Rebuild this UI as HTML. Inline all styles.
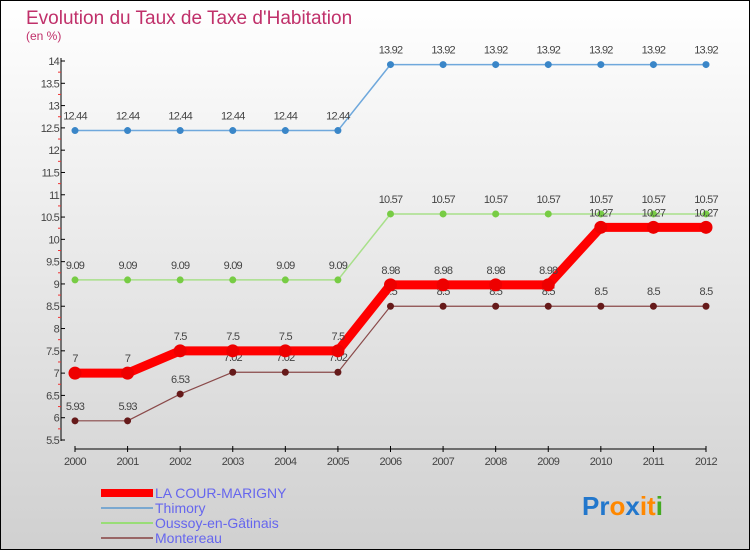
<!DOCTYPE html>
<html><head><meta charset="utf-8"><style>
body{margin:0}
#c{width:750px;height:550px;position:relative;font-family:"Liberation Sans",sans-serif}
text{font-family:"Liberation Sans",sans-serif}
</style></head><body>
<div id="c">
<svg id="s" width="750" height="550" xmlns="http://www.w3.org/2000/svg">
<defs><linearGradient id="bg" x1="0" y1="0" x2="0" y2="1"><stop offset="0" stop-color="#ffffff"/><stop offset="1" stop-color="#d0d0d0"/></linearGradient></defs>
<rect x="0.5" y="0.5" width="749" height="549" fill="url(#bg)" stroke="#000"/>
<text x="26" y="24" font-size="19" fill="#c0306a">Evolution du Taux de Taxe d'Habitation</text>
<text x="26" y="40" font-size="12" fill="#c0306a">(en %)</text>
<g id="axes"></g><g id="series"></g>
<g>
<rect x="101" y="489" width="52" height="8" fill="#ff0000"/>
<text x="155" y="498" font-size="14" fill="#6666ee">LA COUR-MARIGNY</text>
<rect x="101" y="507" width="52" height="2" fill="#7aa8d0"/>
<text x="155" y="513" font-size="14" fill="#6666ee">Thimory</text>
<rect x="101" y="522" width="52" height="2" fill="#99dd77"/>
<text x="155" y="528" font-size="14" fill="#6666ee">Oussoy-en-Gâtinais</text>
<rect x="101" y="537" width="52" height="2" fill="#996666"/>
<text x="155" y="543" font-size="14" fill="#6666ee">Montereau</text>
</g>
<text x="582" y="515" font-size="26" font-weight="bold"><tspan fill="#2277cc">Pr</tspan><tspan fill="#ff8800">o</tspan><tspan fill="#2277cc">x</tspan><tspan fill="#ff8800">it</tspan><tspan fill="#44aa22">i</tspan></text>
</svg></div>
<script>
const years=[2000,2001,2002,2003,2004,2005,2006,2007,2008,2009,2010,2011,2012];
const laCour=[7,7,7.5,7.5,7.5,7.5,8.98,8.98,8.98,8.98,10.27,10.27,10.27];
const thimory=[12.44,12.44,12.44,12.44,12.44,12.44,13.92,13.92,13.92,13.92,13.92,13.92,13.92];
const oussoy=[9.09,9.09,9.09,9.09,9.09,9.09,10.57,10.57,10.57,10.57,10.57,10.57,10.57];
const montereau=[5.93,5.93,6.53,7.02,7.02,7.02,8.5,8.5,8.5,8.5,8.5,8.5,8.5];
const yTicks=[5.5,6,6.5,7,7.5,8,8.5,9,9.5,10,10.5,11,11.5,12,12.5,13,13.5,14];
const NS="http://www.w3.org/2000/svg";
const X=i=>75+i*(706-75)/(years.length-1);
const Y=v=>61+(14-v)*(440-61)/8.5;
function mk(t,a,p){const e=document.createElementNS(NS,t);for(const k in a)e.setAttribute(k,a[k]);p.appendChild(e);return e;}
const ax=document.getElementById('axes');
const yl=mk('line',{x1:61,y1:58,x2:61,y2:441,stroke:'#000'},ax);


yTicks.forEach(v=>{
 mk('line',{x1:61,y1:Y(v),x2:65,y2:Y(v),stroke:'#000'},ax);
 if(v<14) mk('line',{x1:58,y1:Y(v+0.25),x2:61,y2:Y(v+0.25),stroke:'#ee3333'},ax);
 const t=mk('text',{x:59,y:Y(v)+4,'font-size':11,fill:'#444','text-anchor':'end','letter-spacing':'-0.8'},ax);
 t.textContent=v;
 
 
});
const xl=mk('line',{x1:75,y1:449,x2:706,y2:449,stroke:'#000'},ax);


years.forEach((y,i)=>{
 mk('line',{x1:X(i),y1:446,x2:X(i),y2:452,stroke:'#000'},ax);
 const t=mk('text',{x:X(i),y:465,'font-size':11,fill:'#444','text-anchor':'middle','letter-spacing':'-0.6'},ax);
 t.textContent=y;
 
 
});
const sg=document.getElementById('series');
function draw(name,data,color,w,r,dot){
 const g=mk('g',{},sg);
 
 
 const p=mk('polyline',{points:data.map((v,i)=>X(i)+','+Y(v)).join(' '),fill:'none',stroke:color,'stroke-width':w,'stroke-linejoin':'round'},g);
 
 
 data.forEach((v,i)=>{
  const c=mk('circle',{cx:X(i),cy:Y(v),r:r,fill:dot},g);
  
  
  const t=mk('text',{x:X(i),y:Y(v)-11,'font-size':11,fill:'#444','text-anchor':'middle','letter-spacing':'-0.8'},g);
  t.textContent=v;
  
  
 });
}
draw('thimory',thimory,'#6fa8dc',1.5,3.5,'#3a86c8');
draw('oussoy',oussoy,'#a8e08a',1.5,3.5,'#77cc44');
draw('montereau',montereau,'#8a4a4a',1.2,3.5,'#661a1a');
draw('la-cour-marigny',laCour,'#ff0000',9,6.5,'#ee0000');
</script>
</body></html>
